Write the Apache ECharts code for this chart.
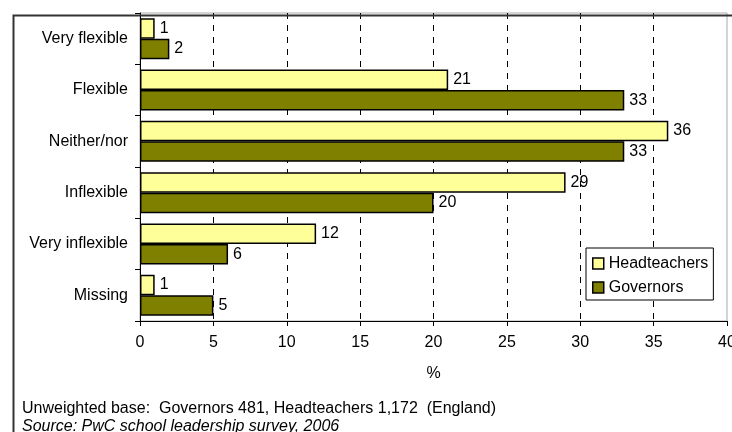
<!DOCTYPE html>
<html>
<head>
<meta charset="utf-8">
<script src="https://cdn.jsdelivr.net/npm/echarts@6/dist/echarts.min.js"></script>
<style>html,body{margin:0;padding:0;background:#fff;overflow:hidden}#c{width:732px;height:432px}</style>
</head>
<body>
<div id="c"></div>
<script>
var categories = ['Very flexible', 'Flexible', 'Neither/nor', 'Inflexible', 'Very inflexible', 'Missing'];
var headteachers = [1, 21, 36, 29, 12, 1];
var governors = [2, 33, 33, 20, 6, 5];
var xTicks = [0, 5, 10, 15, 20, 25, 30, 35, 40];
var footnote1 = 'Unweighted base:  Governors 481, Headteachers 1,172  (England)';
var footnote2 = 'Source: PwC school leadership survey, 2006';

var font = 'Liberation Sans, Arial, sans-serif';
var chart = echarts.init(document.getElementById('c'), null, {renderer: 'canvas'});
var labelCfg = {show: true, position: 'right', distance: 5, color: '#000', fontSize: 16, fontFamily: font};
chart.setOption({
  animation: false,
  textStyle: {fontFamily: font},
  grid: {left: 140, right: 5, top: 13, bottom: 111, containLabel: false, outerBoundsMode: 'none',
         show: true, borderColor: '#aaa', borderWidth: 1, backgroundColor: 'transparent'},
  xAxis: {
    type: 'value', min: xTicks[0], max: xTicks[xTicks.length - 1], interval: 5,
    axisLine: {show: true, lineStyle: {color: '#000', width: 1}},
    axisTick: {show: true, length: 5, lineStyle: {color: '#000'}},
    axisLabel: {color: '#000', fontSize: 16, margin: 14, fontFamily: font, showMinLabel: true, showMaxLabel: true},
    splitLine: {show: true, lineStyle: {color: ['transparent', '#000', '#000', '#000', '#000', '#000', '#000', '#000', 'transparent'], type: [6, 6], width: 1}},
    name: '%', nameLocation: 'middle', nameGap: 45,
    nameTextStyle: {color: '#000', fontSize: 16, fontFamily: font}
  },
  yAxis: {
    type: 'category', data: categories, inverse: true,
    axisLine: {show: true, lineStyle: {color: '#000', width: 1}},
    axisTick: {show: true, length: 5, lineStyle: {color: '#000'}},
    axisLabel: {color: '#000', fontSize: 16, margin: 12, fontFamily: font},
    splitLine: {show: false}
  },
  legend: {
    orient: 'vertical', left: 586, top: 248,
    padding: [7, 5, 4, 6], itemGap: 7, itemWidth: 11, itemHeight: 11,
    backgroundColor: '#fff', borderColor: '#000', borderWidth: 1, borderRadius: 0,
    textStyle: {color: '#000', fontSize: 16, fontFamily: font, lineHeight: 17},
    itemStyle: {borderColor: '#000', borderWidth: 1.5},
    icon: 'rect',
    data: ['Headteachers', 'Governors']
  },
  graphic: [
    {type: 'rect', left: 11, top: 13, shape: {width: 900, height: 600}, style: {fill: 'none', stroke: '#333', lineWidth: 2}, silent: true, z: 100},
    {type: 'text', left: 22, top: 401, style: {text: footnote1, fill: '#000', font: '16px ' + font}},
    {type: 'text', left: 22, top: 419, style: {text: footnote2, fill: '#000', font: 'italic 16px ' + font}}
  ],
  series: [
    {name: 'Headteachers', type: 'bar', data: headteachers, barGap: '0%', barCategoryGap: '20%',
     itemStyle: {color: '#FFFF99', borderColor: '#000', borderWidth: 1.5}, label: labelCfg},
    {name: 'Governors', type: 'bar', data: governors,
     itemStyle: {color: '#808000', borderColor: '#000', borderWidth: 1.5}, label: labelCfg}
  ]
});
</script>
</body>
</html>
